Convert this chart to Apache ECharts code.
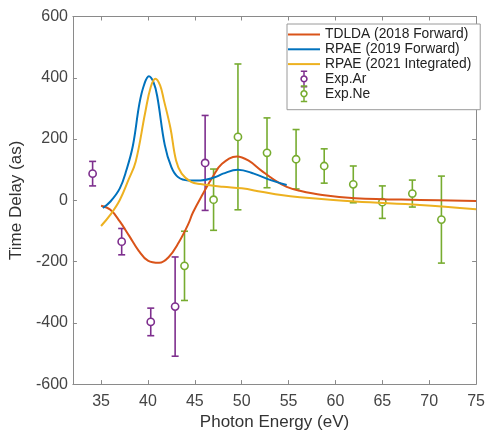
<!DOCTYPE html>
<html>
<head>
    <meta charset="utf-8">
    <title>Time delay vs photon energy</title>
    <script src="https://cdn.jsdelivr.net/npm/echarts@6/dist/echarts.min.js"></script>
    <style>
        html, body { margin: 0; padding: 0; background: #fff; }
        #chart { width: 488px; height: 436px; }
    </style>
</head>
<body>
    <div id="chart"></div>
    <script>
    // tick values
    var xTicks = [35, 40, 45, 50, 55, 60, 65, 70, 75];
    var yTicks = [-600, -400, -200, 0, 200, 400, 600];

    // theory curves, [energy, delay]
    var tdlda2018 = [[35, -18], [36, -31], [37, -69], [38, -116], [39, -164], [40, -197], [41.2, -204],
        [42.2, -186], [43.3, -137], [44.3, -78], [44.8, -40], [45.9, 23], [46.9, 76], [47.9, 119], [49.5, 143],
        [50.7, 130], [52.1, 97], [53.5, 66], [54.8, 44], [56.2, 31], [58.6, 17], [62.1, 7], [69, 1], [75, -2]];
    var rpae2019 = [[35.2, -25], [36, -4], [37, 39], [37.7, 98], [38.4, 179], [39.1, 317], [39.6, 378],
        [40.1, 405], [40.6, 385], [41, 338], [41.8, 180], [42.5, 108], [43.2, 76], [44.3, 65], [45.6, 65],
        [47.2, 76], [48, 87], [49.6, 100], [51.3, 87], [53.1, 66], [54.8, 50]];
    var rpae2021 = [[35, -84], [36, -47], [37, 1], [37.9, 65], [38.7, 127], [39.7, 285], [40.3, 370],
        [40.8, 397], [41.3, 375], [41.7, 327], [42.4, 236], [43, 130], [43.6, 87], [44.6, 60], [45.6, 53],
        [48, 44], [50, 39], [52.1, 28], [54.2, 17], [56.2, 10], [62.1, -4], [69, -15], [75, -29]];

    // experiment points: energy, delay, error
    var arX = [34.1, 37.2, 40.3, 42.9, 46.1];
    var arY = [87, -135, -397, -347, 122];
    var arErr = [40, 43, 45, 162, 155];
    var neX = [43.9, 47.0, 49.6, 52.7, 55.8, 58.8, 61.9, 65.0, 68.2, 71.3];
    var neY = [-214, 2, 207, 155, 134, 112, 52, -6, 22, -63];
    var neErr = [113, 100, 238, 114, 97, 56, 60, 53, 44, 142];

    function zip(xs, ys, es) {
        return xs.map(function (x, i) { return [x, ys[i], es[i]]; });
    }

    function errorBars(color) {
        return function (params, api) {
            var x = api.value(0), y = api.value(1), e = api.value(2);
            var c = api.coord([x, y]);
            var hi = api.coord([x, y + e]);
            var lo = api.coord([x, y - e]);
            var w = 3.5;
            var st = { stroke: color, lineWidth: 1.6, fill: null };
            return {
                type: 'group',
                children: [
                    { type: 'line', shape: { x1: c[0], y1: hi[1], x2: c[0], y2: lo[1] }, style: st },
                    { type: 'line', shape: { x1: c[0] - w, y1: hi[1], x2: c[0] + w, y2: hi[1] }, style: st },
                    { type: 'line', shape: { x1: c[0] - w, y1: lo[1], x2: c[0] + w, y2: lo[1] }, style: st },
                    { type: 'circle', shape: { cx: c[0], cy: c[1], r: 3.6 }, style: { stroke: color, lineWidth: 1.6, fill: '#fff' } }
                ]
            };
        };
    }

    // legend icons
    function ring(cx, cy, r, reverse) {
        var pts = [];
        for (var k = 0; k < 16; k++) {
            var a = (reverse ? -1 : 1) * k * Math.PI / 8;
            pts.push((cx + r * Math.cos(a)).toFixed(2) + ' ' + (cy + r * Math.sin(a)).toFixed(2));
        }
        return 'M' + pts.join('L') + 'Z';
    }
    var lineIcon = 'path://M0 0H32V2H0Z';
    var errIcon = 'path://M2 0H8V1.4H2Z M4.3 0H5.7V4.8H4.3Z M4.3 11.2H5.7V16H4.3Z M2 14.6H8V16H2Z ' +
        ring(5, 8, 3.5, false) + ' ' + ring(5, 8, 2.0, true);

    var axisColor = '#8a8a8a';
    var font = 'Liberation Sans, Arial, sans-serif';

    function xAx(pos, labels) {
        return {
            type: 'value', position: pos, min: 32, max: 75,
            name: labels ? 'Photon Energy (eV)' : '',
            nameLocation: 'middle', nameGap: 28,
            nameTextStyle: { fontSize: 17, color: '#333', fontFamily: font },
            axisLine: { show: true, onZero: false, lineStyle: { color: axisColor, width: 1 } },
            axisTick: { show: true, inside: true, length: 4, customValues: xTicks, lineStyle: { color: axisColor } },
            axisLabel: { show: labels, customValues: xTicks, margin: 9, fontSize: 16, color: '#444', fontFamily: font },
            splitLine: { show: false }
        };
    }

    function yAx(pos, labels) {
        return {
            type: 'value', position: pos, min: -600, max: 600, interval: 200,
            name: labels ? 'Time Delay (as)' : '',
            nameLocation: 'middle', nameGap: 36,
            nameTextStyle: { fontSize: 17, color: '#333', fontFamily: font },
            axisLine: { show: true, onZero: false, lineStyle: { color: axisColor, width: 1 } },
            axisTick: { show: true, inside: true, length: 4, lineStyle: { color: axisColor } },
            axisLabel: { show: labels, margin: 5, fontSize: 16, color: '#444', fontFamily: font },
            splitLine: { show: false }
        };
    }

    var chart = echarts.init(document.getElementById('chart'));

    var option = {
        animation: false,
        backgroundColor: '#fff',
        grid: { left: 66.5, right: 6.5, top: 16.5, bottom: 45.5 },
        xAxis: [xAx('bottom', true), xAx('top', false)],
        yAxis: [yAx('left', true), yAx('right', false)],
        legend: {
            orient: 'vertical', left: 287, top: 24,
            padding: [2, 9, 7.5, 1],
            itemWidth: 32, itemHeight: 17, itemGap: -2.2,
            symbolKeepAspect: true,
            backgroundColor: '#fff', borderColor: '#9a9a9a', borderWidth: 1,
            textStyle: { fontSize: 13.8, lineHeight: 17, color: '#222', fontFamily: font },
            data: [
                { name: 'TDLDA (2018 Forward)', icon: lineIcon },
                { name: 'RPAE (2019 Forward)', icon: lineIcon },
                { name: 'RPAE (2021 Integrated)', icon: lineIcon },
                { name: 'Exp.Ar', icon: errIcon },
                { name: 'Exp.Ne', icon: errIcon }
            ]
        },
        series: [{
            name: 'TDLDA (2018 Forward)', type: 'line', smooth: 0.4, symbol: 'none',
            color: '#D95319', lineStyle: { width: 2, color: '#D95319' }, data: tdlda2018
        }, {
            name: 'RPAE (2019 Forward)', type: 'line', smooth: 0.4, symbol: 'none',
            color: '#0072BD', lineStyle: { width: 2, color: '#0072BD' }, data: rpae2019
        }, {
            name: 'RPAE (2021 Integrated)', type: 'line', smooth: 0.4, symbol: 'none',
            color: '#EDB120', lineStyle: { width: 2, color: '#EDB120' }, data: rpae2021
        }, {
            name: 'Exp.Ar', type: 'custom', color: '#7E2F8E',
            itemStyle: { color: '#7E2F8E' },
            encode: { x: 0, y: 1 },
            renderItem: errorBars('#7E2F8E'),
            data: zip(arX, arY, arErr)
        }, {
            name: 'Exp.Ne', type: 'custom', color: '#77AC30',
            itemStyle: { color: '#77AC30' },
            encode: { x: 0, y: 1 },
            renderItem: errorBars('#77AC30'),
            data: zip(neX, neY, neErr)
        }]
    };

    chart.setOption(option);
    addEventListener('resize', chart.resize);
    </script>
</body>
</html>
